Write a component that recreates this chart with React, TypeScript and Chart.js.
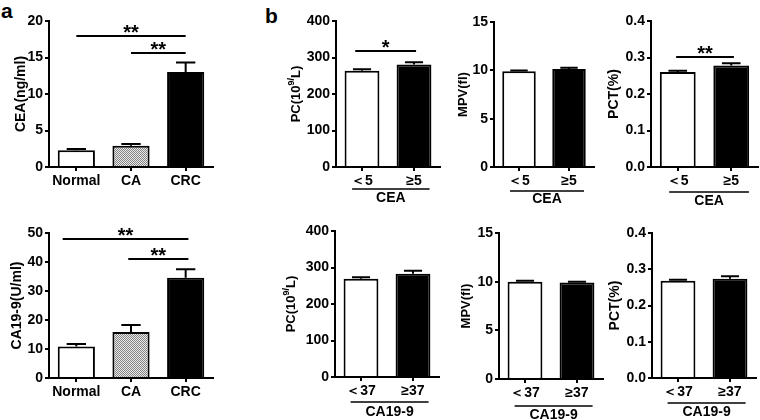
import React, { useEffect, useRef } from "react";
import { Chart, registerables } from "chart.js";

Chart.register(...registerables);

const FONT = "'Liberation Sans', Arial, Helvetica, sans-serif";

// ---- Panel a data ----
const aCategories = ["Normal", "CA", "CRC"];
const ceaMeans = [2.3, 2.9, 13.0];
const ceaErrors = [0.15, 0.25, 1.3];
const ceaTicks = [0, 5, 10, 15, 20];
const ca199Means = [10.9, 15.9, 34.6];
const ca199Errors = [0.8, 2.4, 2.9];
const ca199Ticks = [0, 10, 20, 30, 40, 50];

// ---- Panel b data ----
const ceaGroupLabels = ["＜5", "≥5"];
const ca199GroupLabels = ["＜37", "≥37"];
const pcByCeaMeans = [264, 281];
const pcByCeaErrors = [4, 6];
const mpvByCeaMeans = [9.9, 10.15];
const mpvByCeaErrors = [0.07, 0.12];
const pctByCeaMeans = [0.26, 0.278];
const pctByCeaErrors = [0.004, 0.006];
const pcByCa199Means = [269, 283];
const pcByCa199Errors = [4, 8];
const mpvByCa199Means = [10.0, 9.92];
const mpvByCa199Errors = [0.1, 0.08];
const pctByCa199Means = [0.268, 0.274];
const pctByCa199Errors = [0.003, 0.007];
const pcTicks = [0, 100, 200, 300, 400];
const mpvTicks = [0, 5, 10, 15];
const pctTicks = [0, 0.1, 0.2, 0.3, 0.4];

// significance markers (category-index positions, value on y axis)
const ceaSig = [
  { from: 0, to: 2, value: 17.9, text: "**" },
  { from: 1, to: 2, value: 15.6, text: "**" },
];
const ca199Sig = [
  { from: -0.25, to: 2.05, value: 47.8, text: "**" },
  { from: 0.95, to: 2.05, value: 40.9, text: "**" },
];
const pcCeaSig = [{ from: -0.13, to: 1.04, value: 318, text: "*" }];
const pctCeaSig = [{ from: -0.03, to: 1.05, value: 0.301, text: "**" }];

type Sig = { from: number; to: number; value: number; text: string };
type TitlePart = { text: string; sup?: boolean };

type PanelProps = {
  canvas: [number, number, number, number]; // x, y, w, h
  plot: [number, number, number, number]; // left, top, right, bottom (page coords)
  labels: string[];
  means: number[];
  errors: number[];
  ticks: number[];
  decimals: number;
  colors: string[];
  barPct: number;
  title: TitlePart[];
  titleX: number;
  titleSize: number;
  sig: Sig[];
  group?: { text: string; from: number; to: number; lineOff: number; textOff: number };
};

function makePattern(): CanvasPattern | string {
  const c = document.createElement("canvas");
  c.width = 2;
  c.height = 2;
  const g = c.getContext("2d");
  if (!g) return "#bbb";
  g.fillStyle = "#e8e8e8";
  g.fillRect(0, 0, 2, 2);
  g.fillStyle = "#858585";
  g.fillRect(0, 0, 1, 1);
  g.fillRect(1, 1, 1, 1);
  const p = g.createPattern(c, "repeat");
  return p || "#bbb";
}

function Panel(props: PanelProps) {
  const ref = useRef<HTMLCanvasElement | null>(null);
  useEffect(() => {
    if (!ref.current) return;
    const [cx, cy, cw, ch] = props.canvas;
    const [pl, pt, pr, pb] = props.plot;
    const yWidth = pl - cx;
    const xHeight = cy + ch - pb;
    const bg = props.colors.map((c) => (c === "pattern" ? makePattern() : c));
    const tickFont = { family: FONT, size: 14, weight: "bold" as const };

    const annot = {
      id: "annot",
      afterDatasetsDraw(chart: any) {
        const ctx = chart.ctx as CanvasRenderingContext2D;
        const ys = chart.scales.y;
        const meta = chart.getDatasetMeta(0);
        ctx.save();
        ctx.strokeStyle = "#000";
        ctx.lineWidth = 2;
        meta.data.forEach((el: any, i: number) => {
          const top = ys.getPixelForValue(props.means[i]);
          const end = ys.getPixelForValue(props.means[i] + props.errors[i]);
          const half = el.width * 0.26;
          ctx.beginPath();
          ctx.moveTo(el.x, top);
          ctx.lineTo(el.x, end);
          ctx.moveTo(el.x - half, end);
          ctx.lineTo(el.x + half, end);
          ctx.stroke();
        });
        ctx.restore();
      },
      afterDraw(chart: any) {
        const ctx = chart.ctx as CanvasRenderingContext2D;
        const xs = chart.scales.x;
        const ys = chart.scales.y;
        const area = chart.chartArea;
        ctx.save();
        ctx.fillStyle = "#000";
        ctx.strokeStyle = "#000";
        // significance lines
        props.sig.forEach((s) => {
          const x1 = xs.getPixelForValue(s.from);
          const x2 = xs.getPixelForValue(s.to);
          const y = Math.round(ys.getPixelForValue(s.value));
          ctx.lineWidth = 2;
          ctx.beginPath();
          ctx.moveTo(x1, y);
          ctx.lineTo(x2, y);
          ctx.stroke();
          ctx.font = `bold 20px ${FONT}`;
          ctx.textAlign = "center";
          ctx.textBaseline = "alphabetic";
          ctx.fillText(s.text, (x1 + x2) / 2, y + 3);
        });
        // group label
        if (props.group) {
          const g = props.group;
          const x1 = xs.getPixelForValue(g.from);
          const x2 = xs.getPixelForValue(g.to);
          const y = area.bottom + g.lineOff;
          ctx.lineWidth = 1.5;
          ctx.beginPath();
          ctx.moveTo(x1, y);
          ctx.lineTo(x2, y);
          ctx.stroke();
          ctx.font = `bold 14px ${FONT}`;
          ctx.textAlign = "center";
          ctx.textBaseline = "middle";
          ctx.fillText(g.text, (x1 + x2) / 2, area.bottom + g.textOff);
        }
        // y title (rotated)
        const tx = props.titleX - cx;
        const ty = (area.top + area.bottom) / 2;
        ctx.translate(tx, ty);
        ctx.rotate(-Math.PI / 2);
        const big = `bold ${props.titleSize}px ${FONT}`;
        const small = `bold ${Math.round(props.titleSize * 0.68)}px ${FONT}`;
        let total = 0;
        props.title.forEach((p) => {
          ctx.font = p.sup ? small : big;
          total += ctx.measureText(p.text).width;
        });
        let x = -total / 2;
        ctx.textAlign = "left";
        ctx.textBaseline = "middle";
        props.title.forEach((p) => {
          ctx.font = p.sup ? small : big;
          ctx.fillText(p.text, x, p.sup ? -4 : 0);
          x += ctx.measureText(p.text).width;
        });
        ctx.restore();
      },
    };

    const chart = new Chart(ref.current, {
      type: "bar",
      data: {
        labels: props.labels,
        datasets: [
          {
            data: props.means,
            backgroundColor: bg as any,
            borderColor: "#000",
            borderWidth: 2,
            borderSkipped: "bottom",
            barPercentage: props.barPct,
            categoryPercentage: 1,
          },
        ],
      },
      options: {
        responsive: false,
        animation: false,
        devicePixelRatio: 1,
        layout: { padding: { top: pt - cy, right: cx + cw - pr, left: 0, bottom: 0 } },
        plugins: { legend: { display: false }, tooltip: { enabled: false }, title: { display: false } },
        scales: {
          x: {
            offset: true,
            grid: { display: true, drawOnChartArea: false, offset: false, tickLength: 4, lineWidth: 2, color: "#000" },
            border: { display: true, color: "#000", width: 2 },
            ticks: { color: "#000", font: tickFont, padding: 2, maxRotation: 0, autoSkip: false },
            afterFit: (s: any) => {
              s.height = xHeight;
            },
          },
          y: {
            min: props.ticks[0],
            max: props.ticks[props.ticks.length - 1],
            grid: { display: true, drawOnChartArea: false, tickLength: 4, lineWidth: 2, color: "#000" },
            border: { display: true, color: "#000", width: 2 },
            ticks: {
              stepSize: props.ticks[1] - props.ticks[0],
              color: "#000",
              font: tickFont,
              padding: 2,
              callback: (v: any) => Number(v).toFixed(props.decimals),
            },
            afterBuildTicks: (s: any) => {
              s.ticks = props.ticks.map((v) => ({ value: v }));
            },
            afterFit: (s: any) => {
              s.width = yWidth;
            },
          },
        },
      },
      plugins: [annot],
    } as any);
    return () => chart.destroy();
  }, []);
  const [cx, cy, cw, ch] = props.canvas;
  return (
    <canvas
      ref={ref}
      width={cw}
      height={ch}
      style={{ position: "absolute", left: cx, top: cy, width: cw, height: ch }}
    />
  );
}

export default function App() {
  const labelStyle: React.CSSProperties = {
    position: "absolute",
    fontFamily: FONT,
    fontWeight: "bold",
    fontSize: 21,
    lineHeight: "21px",
    color: "#000",
  };
  const bColors = ["#fff", "#000"];
  const aColors = ["#fff", "pattern", "#000"];
  return (
    <div style={{ position: "absolute", left: 0, top: 0, width: 760, height: 420, background: "#fff", overflow: "hidden" }}>
      <div style={{ ...labelStyle, left: 1, top: 0 }}>a</div>
      <div style={{ ...labelStyle, left: 265, top: 5 }}>b</div>

      <Panel canvas={[0, 0, 235, 210]} plot={[49, 21, 213, 167]} labels={aCategories} means={ceaMeans} errors={ceaErrors}
        ticks={ceaTicks} decimals={0} colors={aColors} barPct={0.68} title={[{ text: "CEA(ng/ml)" }]} titleX={21} titleSize={14} sig={ceaSig} />
      <Panel canvas={[0, 210, 235, 210]} plot={[49, 233, 213, 378]} labels={aCategories} means={ca199Means} errors={ca199Errors}
        ticks={ca199Ticks} decimals={0} colors={aColors} barPct={0.68} title={[{ text: "CA19-9(U/ml)" }]} titleX={17} titleSize={14} sig={ca199Sig} />

      <Panel canvas={[240, 0, 210, 210]} plot={[336, 21, 440, 167]} labels={ceaGroupLabels} means={pcByCeaMeans} errors={pcByCeaErrors}
        ticks={pcTicks} decimals={0} colors={bColors} barPct={0.67}
        title={[{ text: "PC(10" }, { text: "9/", sup: true }, { text: "L)" }]} titleX={296} titleSize={13} sig={pcCeaSig}
        group={{ text: "CEA", from: -0.19, to: 1.3, lineOff: 22, textOff: 31 }} />
      <Panel canvas={[430, 0, 180, 210]} plot={[494, 22, 594, 167]} labels={ceaGroupLabels} means={mpvByCeaMeans} errors={mpvByCeaErrors}
        ticks={mpvTicks} decimals={0} colors={bColors} barPct={0.67} title={[{ text: "MPV(fl)" }]} titleX={463} titleSize={13} sig={[]}
        group={{ text: "CEA", from: -0.18, to: 1.3, lineOff: 24, textOff: 32 }} />
      <Panel canvas={[590, 0, 170, 210]} plot={[651, 21, 758, 167]} labels={ceaGroupLabels} means={pctByCeaMeans} errors={pctByCeaErrors}
        ticks={pctTicks} decimals={1} colors={bColors} barPct={0.67} title={[{ text: "PCT(%)" }]} titleX={614} titleSize={14} sig={pctCeaSig}
        group={{ text: "CEA", from: -0.16, to: 1.33, lineOff: 25, textOff: 34 }} />

      <Panel canvas={[240, 210, 210, 210]} plot={[335, 231, 439, 377]} labels={ca199GroupLabels} means={pcByCa199Means} errors={pcByCa199Errors}
        ticks={pcTicks} decimals={0} colors={bColors} barPct={0.67}
        title={[{ text: "PC(10" }, { text: "9/", sup: true }, { text: "L)" }]} titleX={291} titleSize={13} sig={[]}
        group={{ text: "CA19-9", from: -0.2, to: 1.3, lineOff: 25, textOff: 35 }} />
      <Panel canvas={[430, 210, 180, 210]} plot={[499, 233, 603, 379]} labels={ca199GroupLabels} means={mpvByCa199Means} errors={mpvByCa199Errors}
        ticks={mpvTicks} decimals={0} colors={bColors} barPct={0.67} title={[{ text: "MPV(fl)" }]} titleX={466} titleSize={13} sig={[]}
        group={{ text: "CA19-9", from: -0.2, to: 1.3, lineOff: 27, textOff: 36 }} />
      <Panel canvas={[590, 210, 170, 210]} plot={[652, 233, 756, 378]} labels={ca199GroupLabels} means={pctByCa199Means} errors={pctByCa199Errors}
        ticks={pctTicks} decimals={1} colors={bColors} barPct={0.67} title={[{ text: "PCT(%)" }]} titleX={615} titleSize={14} sig={[]}
        group={{ text: "CA19-9", from: -0.2, to: 1.3, lineOff: 25, textOff: 34 }} />
    </div>
  );
}
